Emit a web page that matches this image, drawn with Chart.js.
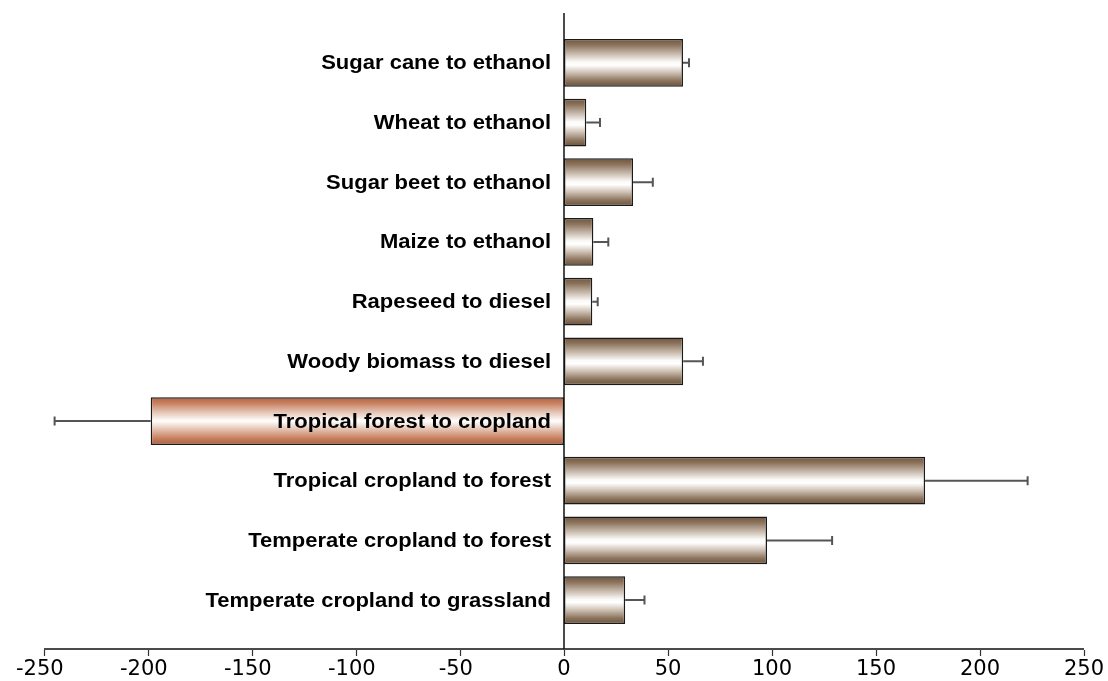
<!DOCTYPE html>
<html>
<head>
<meta charset="utf-8">
<script src="https://cdn.jsdelivr.net/npm/chart.js@4.4.1/dist/chart.umd.min.js"></script>
<style>
    html, body { margin: 0; padding: 0; background: #fff; }
    #wrap { width: 1108px; height: 681px; }
</style>
</head>
<body>
<div id="wrap"><canvas id="barChart"></canvas></div>
<script>
const categories = [
    'Sugar cane to ethanol',
    'Wheat to ethanol',
    'Sugar beet to ethanol',
    'Maize to ethanol',
    'Rapeseed to diesel',
    'Woody biomass to diesel',
    'Tropical forest to cropland',
    'Tropical cropland to forest',
    'Temperate cropland to forest',
    'Temperate cropland to grassland'
];
const values = [57.2, 10.7, 33.2, 14.1, 13.6, 57.3, -198.7, 173.6, 97.6, 29.4];
const errors = [2.9, 6.6, 9.5, 7.2, 2.6, 9.5, 46.2, 49.3, 31.3, 9.3];
const xTicks = [-250, -200, -150, -100, -50, 0, 50, 100, 150, 200, 250];

const brownStops = [
    [0, '#6f553d'], [0.12, '#8a715a'], [0.3, '#c4b6a8'], [0.48, '#fbfaf8'],
    [0.55, '#ffffff'], [0.7, '#d0c3b6'], [0.88, '#8a725c'], [1, '#6b523b']
];
const copperStops = [
    [0, '#b5643f'], [0.12, '#c67e5e'], [0.3, '#e3bfae'], [0.5, '#ffffff'],
    [0.7, '#e0b8a4'], [0.88, '#c47a58'], [1, '#b25f3c']
];

function barFill(context) {
    const chart = context.chart;
    const area = chart.chartArea;
    if (!area) return '#8c745e';
    const yScale = chart.scales.y;
    const band = (area.bottom - area.top) / categories.length;
    const yc = yScale.getPixelForValue(context.dataIndex);
    const h = band * 0.8;
    const g = chart.ctx.createLinearGradient(0, yc - h / 2, 0, yc + h / 2);
    const stops = values[context.dataIndex] < 0 ? copperStops : brownStops;
    stops.forEach(s => g.addColorStop(s[0], s[1]));
    return g;
}

// error bars, category labels, zero line and the bottom axis line with tick marks
const extras = {
    id: 'extras',
    afterDatasetsDraw(chart) {
        const ctx = chart.ctx;
        const xScale = chart.scales.x;
        const yScale = chart.scales.y;
        const bars = chart.getDatasetMeta(0).data;
        const x0 = xScale.getPixelForValue(0);
        ctx.save();
        ctx.strokeStyle = '#555';
        ctx.lineWidth = 2;
        bars.forEach((bar, i) => {
            const v = values[i];
            const end = xScale.getPixelForValue(v < 0 ? v - errors[i] : v + errors[i]);
            ctx.beginPath();
            ctx.moveTo(bar.x, bar.y);
            ctx.lineTo(end, bar.y);
            ctx.moveTo(end, bar.y - 4.5);
            ctx.lineTo(end, bar.y + 4.5);
            ctx.stroke();
        });
        ctx.fillStyle = '#000';
        ctx.font = 'bold 20px "Liberation Sans", Arial, sans-serif';
        ctx.textAlign = 'right';
        ctx.textBaseline = 'middle';
        categories.forEach((c, i) => {
            ctx.save();
            ctx.translate(x0 - 13, yScale.getPixelForValue(i) + 1);
            ctx.scale(1.1, 1);  // the source lettering is a little wide
            ctx.fillText(c, 0, 0);
            ctx.restore();
        });
        ctx.restore();
    },
    afterDraw(chart) {
        const ctx = chart.ctx;
        const area = chart.chartArea;
        const xScale = chart.scales.x;
        const axisY = area.bottom + 19;
        const x0 = xScale.getPixelForValue(0);
        ctx.save();
        ctx.strokeStyle = '#111';
        ctx.lineWidth = 1.5;
        ctx.beginPath();
        ctx.moveTo(x0, area.top - 20);
        ctx.lineTo(x0, axisY);
        ctx.moveTo(xScale.getPixelForValue(xTicks[0]), axisY);
        ctx.lineTo(xScale.getPixelForValue(xTicks[xTicks.length - 1]), axisY);
        ctx.stroke();
        ctx.lineWidth = 1.2;
        ctx.strokeStyle = '#333';
        ctx.beginPath();
        xTicks.forEach(t => {
            const x = Math.round(xScale.getPixelForValue(t)) + 0.5;
            ctx.moveTo(x, axisY + 1);
            ctx.lineTo(x, axisY + 7);
        });
        ctx.stroke();
        ctx.restore();
    }
};

const chart = new Chart(document.getElementById('barChart'), {
    type: 'bar',
    data: {
        labels: categories,
        datasets: [{
            data: values,
            backgroundColor: barFill,
            borderColor: '#1a1a1a',
            borderWidth: 1.5,
            borderSkipped: false,
            barPercentage: 0.8,
            categoryPercentage: 1
        }]
    },
    options: {
        indexAxis: 'y',
        responsive: true,
        maintainAspectRatio: false,
        animation: false,
        layout: { padding: { left: 44, right: 24, top: 33, bottom: 0 } },
        plugins: {
            legend: { display: false },
            tooltip: { enabled: false }
        },
        scales: {
            x: {
                min: -250,
                max: 250,
                afterBuildTicks: scale => { scale.ticks = xTicks.map(v => ({ value: v })); },
                grid: { display: false, drawTicks: true, tickLength: 29 },
                border: { display: false },
                ticks: {
                    color: '#000',
                    padding: 0,
                    maxRotation: 0,
                    font: { family: 'DejaVu Sans', size: 21, lineHeight: 1.05 },
                    callback: v => v < 0 ? '-' + Math.abs(v) + '\u2009\u2009' : String(v)
                }
            },
            y: {
                display: false
            }
        }
    },
    plugins: [extras]
});
</script>
</body>
</html>
